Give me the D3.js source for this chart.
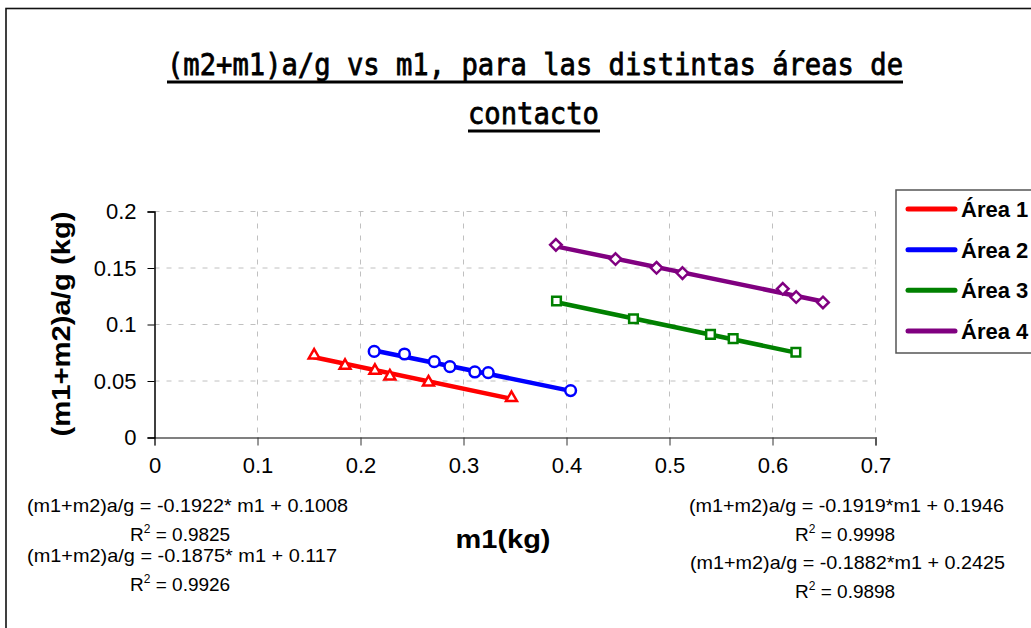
<!DOCTYPE html>
<html>
<head>
<meta charset="utf-8">
<script src="https://cdn.jsdelivr.net/npm/d3@7"></script>
<style>
  body { margin: 0; background: #fff; }
  svg { display: block; font-family: "Liberation Sans", Arial, sans-serif; }
</style>
</head>
<body>
<svg id="chart" width="1031" height="628"></svg>
<script>
// series data
const seriesNames = ["Área 1", "Área 2", "Área 3", "Área 4"];
const seriesColors = ["#ff0000", "#0000ff", "#008000", "#800080"];
const seriesMarkers = ["triangle", "circle", "square", "diamond"];

const area1X = [0.155, 0.185, 0.214, 0.2285, 0.266, 0.3466];
const area1Y = [0.0727, 0.0636, 0.0592, 0.0542, 0.0489, 0.0351];
const area2X = [0.2133, 0.2427, 0.2716, 0.2868, 0.311, 0.324, 0.404];
const area2Y = [0.0762, 0.0739, 0.0671, 0.0627, 0.058, 0.0574, 0.0415];
const area3X = [0.3903, 0.465, 0.5398, 0.5618, 0.6227];
const area3Y = [0.1208, 0.1051, 0.0913, 0.0875, 0.0754];
const area4X = [0.3897, 0.4476, 0.4874, 0.5126, 0.61, 0.623, 0.649];
const area4Y = [0.1705, 0.1579, 0.1502, 0.1455, 0.1316, 0.1243, 0.1195];

// linear trendlines (from the equations printed on the chart)
const slopes = [-0.1922, -0.1875, -0.1919, -0.1882];
const intercepts = [0.1008, 0.117, 0.1946, 0.2425];
const equationTexts = [
  "(m1+m2)a/g = -0.1922* m1 + 0.1008",
  "(m1+m2)a/g = -0.1875* m1 + 0.117",
  "(m1+m2)a/g = -0.1919*m1 + 0.1946",
  "(m1+m2)a/g = -0.1882*m1 + 0.2425"
];
const r2Texts = ["0.9825", "0.9926", "0.9998", "0.9898"];

const xTicks = [0, 0.1, 0.2, 0.3, 0.4, 0.5, 0.6, 0.7];
const yTicks = [0, 0.05, 0.1, 0.15, 0.2];
const yTickLabels = ["0", "0.05", "0.1", "0.15", "0.2"];

const xs = [area1X, area2X, area3X, area4X];
const ys = [area1Y, area2Y, area3Y, area4Y];

const svg = d3.select("#chart");

// outer chart frame (runs off the right / bottom edges)
svg.append("rect")
  .attr("x", 6).attr("y", 8.5)
  .attr("width", 1200).attr("height", 800)
  .attr("fill", "none")
  .attr("stroke", "#111")
  .attr("stroke-width", 1.6);

const x = d3.scaleLinear().domain([0, 0.7]).range([154.5, 875.5]);
const y = d3.scaleLinear().domain([0, 0.2]).range([437.5, 211.5]);

// grid
svg.append("g").selectAll("line")
  .data(yTicks.filter(d => d > 0))
  .join("line")
  .attr("x1", x(0)).attr("x2", x(0.7))
  .attr("y1", d => y(d)).attr("y2", d => y(d))
  .attr("stroke", "#c0c0c0")
  .attr("stroke-dasharray", "5,7");

svg.append("g").selectAll("line")
  .data(xTicks.filter(d => d > 0))
  .join("line")
  .attr("x1", d => x(d)).attr("x2", d => x(d))
  .attr("y1", y(0.2)).attr("y2", y(0))
  .attr("stroke", "#c0c0c0")
  .attr("stroke-dasharray", "5,7");

// axes
const xAxis = d3.axisBottom(x)
  .tickValues(xTicks)
  .tickSize(8)
  .tickPadding(12)
  .tickFormat(d3.format("~g"));

const gx = svg.append("g")
  .attr("transform", `translate(0,${y(0)})`)
  .call(xAxis);
gx.select(".domain").attr("stroke", "#808080").attr("stroke-width", 2);
gx.selectAll(".tick line").attr("stroke", "#333");
gx.selectAll(".tick text")
  .attr("font-size", 22)
  .attr("font-family", "Liberation Sans, Arial, sans-serif")
  .attr("fill", "#000");

const yAxis = d3.axisLeft(y)
  .tickValues(yTicks)
  .tickSize(7)
  .tickPadding(11)
  .tickFormat((d, i) => yTickLabels[i]);

const gy = svg.append("g")
  .attr("transform", `translate(${x(0)},0)`)
  .call(yAxis);
gy.select(".domain").attr("stroke", "#000").attr("stroke-width", 1.5);
gy.selectAll(".tick line").attr("stroke", "#000");
gy.selectAll(".tick text")
  .attr("font-size", 22)
  .attr("font-family", "Liberation Sans, Arial, sans-serif")
  .attr("fill", "#000");

// trendlines
const plot = svg.append("g");
seriesNames.forEach((name, i) => {
  const x0 = d3.min(xs[i]), x1 = d3.max(xs[i]);
  plot.append("line")
    .attr("x1", x(x0)).attr("y1", y(slopes[i] * x0 + intercepts[i]))
    .attr("x2", x(x1)).attr("y2", y(slopes[i] * x1 + intercepts[i]))
    .attr("stroke", seriesColors[i])
    .attr("stroke-width", 4.5)
    .attr("stroke-linecap", "round");
});

// markers
const symbolTypes = {
  triangle: d3.symbolTriangle2 || d3.symbolTriangle,
  circle: d3.symbolCircle,
  square: d3.symbolSquare2 || d3.symbolSquare,
  diamond: d3.symbolDiamond2 || d3.symbolDiamond
};
const symbolSizes = { triangle: 85, circle: 90, square: 95, diamond: 85 };

seriesNames.forEach((name, i) => {
  const pts = xs[i].map((v, j) => [v, ys[i][j]]);
  const sym = d3.symbol().type(symbolTypes[seriesMarkers[i]]).size(symbolSizes[seriesMarkers[i]]);
  plot.append("g").selectAll("path")
    .data(pts)
    .join("path")
    .attr("d", sym)
    .attr("transform", d => `translate(${x(d[0])},${y(d[1])})`)
    .attr("fill", "#fff")
    .attr("stroke", seriesColors[i])
    .attr("stroke-width", 2.5);
});

// title
const title = svg.append("g")
  .attr("font-family", "DejaVu Sans Mono, Liberation Mono, monospace")
  .attr("font-size", 30)
  .attr("stroke", "#000")
  .attr("stroke-width", 0.8);
title.append("text")
  .attr("x", 167).attr("y", 75)
  .attr("textLength", 736).attr("lengthAdjust", "spacingAndGlyphs")
  .text("(m2+m1)a/g vs m1, para las distintas áreas de");
title.append("line")
  .attr("x1", 167).attr("x2", 903).attr("y1", 82).attr("y2", 82)
  .attr("stroke", "#000").attr("stroke-width", 3);
title.append("text")
  .attr("x", 468).attr("y", 124)
  .attr("textLength", 131).attr("lengthAdjust", "spacingAndGlyphs")
  .text("contacto");
title.append("line")
  .attr("x1", 468).attr("x2", 600).attr("y1", 131).attr("y2", 131)
  .attr("stroke", "#000").attr("stroke-width", 3);

// axis titles
svg.append("text")
  .attr("transform", "translate(70,324) rotate(-90)")
  .attr("text-anchor", "middle")
  .attr("font-weight", "bold")
  .attr("font-size", 25)
  .attr("textLength", 225).attr("lengthAdjust", "spacingAndGlyphs")
  .text("(m1+m2)a/g (kg)");

svg.append("text")
  .attr("x", 503).attr("y", 548)
  .attr("text-anchor", "middle")
  .attr("font-weight", "bold")
  .attr("font-size", 25)
  .attr("textLength", 95).attr("lengthAdjust", "spacingAndGlyphs")
  .text("m1(kg)");

// trendline equations
const eqPos = [
  { x: 27, y: 512, w: 321, rx: 130, ry: 541 },
  { x: 27, y: 562, w: 310, rx: 130, ry: 591 },
  { x: 689, y: 512, w: 315, rx: 795, ry: 541 },
  { x: 690, y: 569, w: 315, rx: 795, ry: 598 }
];
const eqs = svg.append("g").attr("font-size", 19).attr("fill", "#000");
equationTexts.forEach((t, i) => {
  const p = eqPos[i];
  eqs.append("text")
    .attr("x", p.x).attr("y", p.y)
    .attr("textLength", p.w).attr("lengthAdjust", "spacingAndGlyphs")
    .text(t);
  const r = eqs.append("text").attr("x", p.rx).attr("y", p.ry);
  r.append("tspan").text("R");
  r.append("tspan").attr("font-size", 12).attr("dy", -8).text("2");
  r.append("tspan").attr("dy", 8).text(" = " + r2Texts[i]);
});

// legend (cut by the right edge)
const legend = svg.append("g");
legend.append("rect")
  .attr("x", 896).attr("y", 190)
  .attr("width", 200).attr("height", 163)
  .attr("fill", "#fff")
  .attr("stroke", "#555")
  .attr("stroke-width", 1.5);
const legendY = d3.scalePoint().domain(seriesNames).range([209, 331]);
seriesNames.forEach((name, i) => {
  legend.append("line")
    .attr("x1", 908).attr("x2", 955)
    .attr("y1", legendY(name)).attr("y2", legendY(name))
    .attr("stroke", seriesColors[i])
    .attr("stroke-width", 5)
    .attr("stroke-linecap", "round");
  legend.append("text")
    .attr("x", 961).attr("y", legendY(name) + 8)
    .attr("font-weight", "bold")
    .attr("font-size", 22)
    .text(name);
});
</script>
</body>
</html>
